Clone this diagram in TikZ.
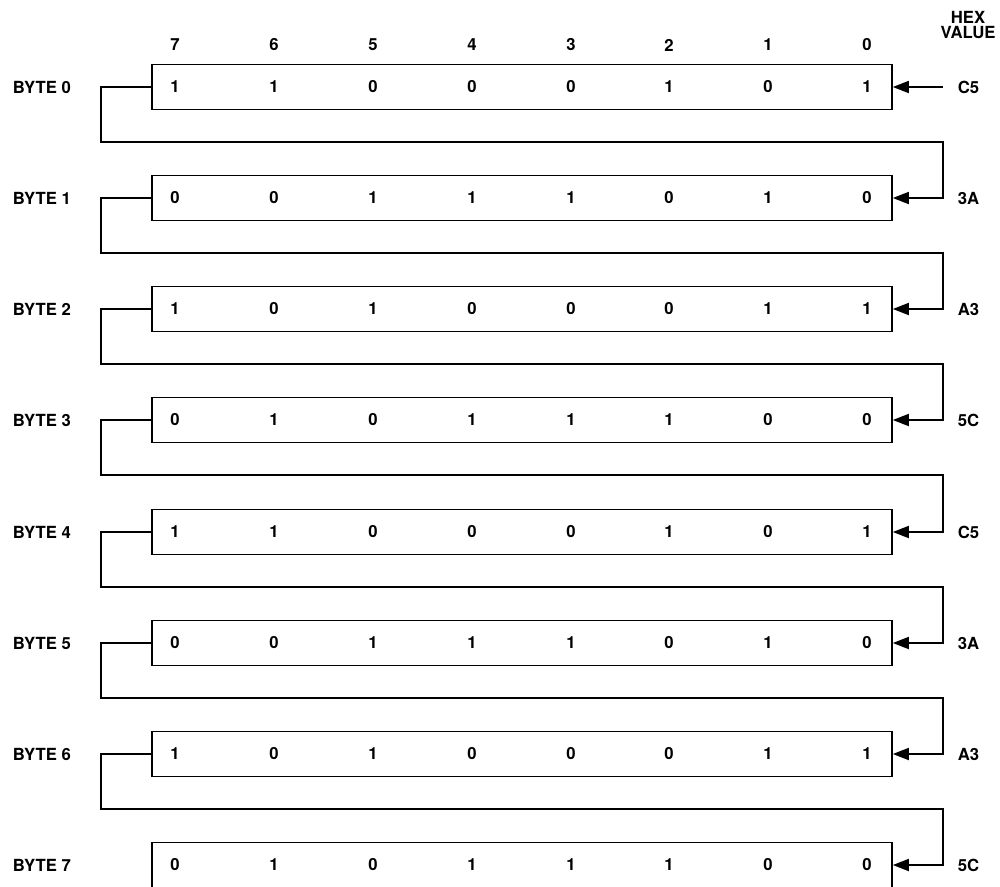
\documentclass[tikz,border=0pt]{standalone}
\usepackage{fontspec}
\setmainfont{TeX Gyre Heros}
\usetikzlibrary{arrows.meta}
\begin{document}
\begin{tikzpicture}[x=0.02cm,y=-0.02cm,line width=1pt,font=\fontsize{9.5}{11}\selectfont\bfseries]
	\tikzstyle{every node}+=[inner sep=0pt]
	\tikzstyle{bytebox}=[draw,rectangle,minimum width=14.8cm,minimum height=0.9cm]
	\tikzstyle{link}=[-{Triangle[length=0.32cm,width=0.24cm]}]
	\useasboundingbox (0,0) rectangle (1000,886);
	\clip (0,0) rectangle (1000,886);
	% header
	\node (hex) at (968,17) {HEX};
	\node (value) at (968,33) {VALUE};
	\draw (175,45) node (n7) {7} (274,45) node (n6) {6} (373,45) node (n5) {5} (472,45) node (n4) {4};
	\draw (571,45) node (n3) {3} (669,45) node (n2) {2} (768,45) node (n1) {1} (867,45) node (n0) {0};
	% byte 0
	\node [bytebox] (b0) at (522,87) {};
	\node [anchor=west] (l0) at (12,87) {BYTE 0};
	\node [anchor=west] (h0) at (957,87) {C5};
	\draw (175,87) node (b0x7) {1} (274,87) node (b0x6) {1} (373,87) node (b0x5) {0} (472,87) node (b0x4) {0};
	\draw (571,87) node (b0x3) {0} (669,87) node (b0x2) {1} (768,87) node (b0x1) {0} (867,87) node (b0x0) {1};
	% byte 1
	\node [bytebox] (b1) at (522,198) {};
	\node [anchor=west] (l1) at (12,198) {BYTE 1};
	\node [anchor=west] (h1) at (957,198) {3A};
	\draw (175,198) node (b1x7) {0} (274,198) node (b1x6) {0} (373,198) node (b1x5) {1} (472,198) node (b1x4) {1};
	\draw (571,198) node (b1x3) {1} (669,198) node (b1x2) {0} (768,198) node (b1x1) {1} (867,198) node (b1x0) {0};
	% byte 2
	\node [bytebox] (b2) at (522,309) {};
	\node [anchor=west] (l2) at (12,309) {BYTE 2};
	\node [anchor=west] (h2) at (957,309) {A3};
	\draw (175,309) node (b2x7) {1} (274,309) node (b2x6) {0} (373,309) node (b2x5) {1} (472,309) node (b2x4) {0};
	\draw (571,309) node (b2x3) {0} (669,309) node (b2x2) {0} (768,309) node (b2x1) {1} (867,309) node (b2x0) {1};
	% byte 3
	\node [bytebox] (b3) at (522,420) {};
	\node [anchor=west] (l3) at (12,420) {BYTE 3};
	\node [anchor=west] (h3) at (957,420) {5C};
	\draw (175,420) node (b3x7) {0} (274,420) node (b3x6) {1} (373,420) node (b3x5) {0} (472,420) node (b3x4) {1};
	\draw (571,420) node (b3x3) {1} (669,420) node (b3x2) {1} (768,420) node (b3x1) {0} (867,420) node (b3x0) {0};
	% byte 4
	\node [bytebox] (b4) at (522,532) {};
	\node [anchor=west] (l4) at (12,532) {BYTE 4};
	\node [anchor=west] (h4) at (957,532) {C5};
	\draw (175,532) node (b4x7) {1} (274,532) node (b4x6) {1} (373,532) node (b4x5) {0} (472,532) node (b4x4) {0};
	\draw (571,532) node (b4x3) {0} (669,532) node (b4x2) {1} (768,532) node (b4x1) {0} (867,532) node (b4x0) {1};
	% byte 5
	\node [bytebox] (b5) at (522,643) {};
	\node [anchor=west] (l5) at (12,643) {BYTE 5};
	\node [anchor=west] (h5) at (957,643) {3A};
	\draw (175,643) node (b5x7) {0} (274,643) node (b5x6) {0} (373,643) node (b5x5) {1} (472,643) node (b5x4) {1};
	\draw (571,643) node (b5x3) {1} (669,643) node (b5x2) {0} (768,643) node (b5x1) {1} (867,643) node (b5x0) {0};
	% byte 6
	\node [bytebox] (b6) at (522,754) {};
	\node [anchor=west] (l6) at (12,754) {BYTE 6};
	\node [anchor=west] (h6) at (957,754) {A3};
	\draw (175,754) node (b6x7) {1} (274,754) node (b6x6) {0} (373,754) node (b6x5) {1} (472,754) node (b6x4) {0};
	\draw (571,754) node (b6x3) {0} (669,754) node (b6x2) {0} (768,754) node (b6x1) {1} (867,754) node (b6x0) {1};
	% byte 7
	\node [bytebox] (b7) at (522,865) {};
	\node [anchor=west] (l7) at (12,865) {BYTE 7};
	\node [anchor=west] (h7) at (957,865) {5C};
	\draw (175,865) node (b7x7) {0} (274,865) node (b7x6) {1} (373,865) node (b7x5) {0} (472,865) node (b7x4) {1};
	\draw (571,865) node (b7x3) {1} (669,865) node (b7x2) {1} (768,865) node (b7x1) {0} (867,865) node (b7x0) {0};
	% links
	\coordinate (in0) at (943,87);
	\draw [link] (in0) -- (b0.east);
	\draw [link] (b0.west) -| (101,142) -- (943,142) |- (b1.east);
	\draw [link] (b1.west) -| (101,253) -- (943,253) |- (b2.east);
	\draw [link] (b2.west) -| (101,364) -- (943,364) |- (b3.east);
	\draw [link] (b3.west) -| (101,475) -- (943,475) |- (b4.east);
	\draw [link] (b4.west) -| (101,587) -- (943,587) |- (b5.east);
	\draw [link] (b5.west) -| (101,698) -- (943,698) |- (b6.east);
	\draw [link] (b6.west) -| (101,809) -- (943,809) |- (b7.east);
\end{tikzpicture}
\end{document}
